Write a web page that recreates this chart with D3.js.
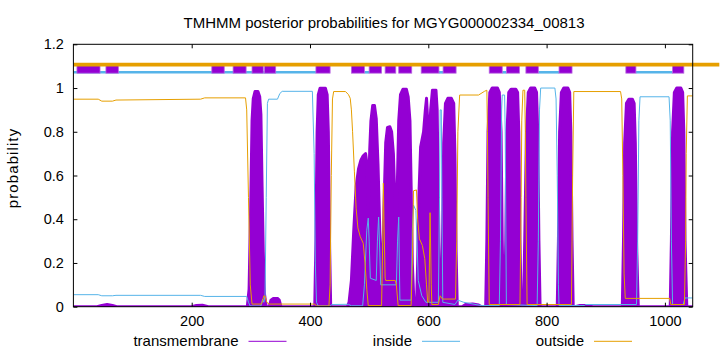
<!DOCTYPE html>
<html><head><meta charset="utf-8">
<script src="https://cdn.jsdelivr.net/npm/d3@7"></script>
<style>
body{margin:0;background:#fff;}
svg{display:block;font-family:"Liberation Sans",Arial,sans-serif;}
</style></head>
<body>
<svg id="chart" width="720" height="352"></svg>
<script>
const titleText = "TMHMM posterior probabilities for MGYG000002334_00813";
const xTicks = [200,400,600,800,1000];
const yTicks = [0,0.2,0.4,0.6,0.8,1,1.2];
const seqLength = 1047;
const legendLabels = ["transmembrane","inside","outside"];

const tmProb = [
[1,0],[40,0],[48,0.006],[57,0.01],[66,0.006],[73,0],
[200,0],[208,0.006],[218,0.007],[228,0],
[294,0],[297,0.08],[300,0.5],[302,0.85],[304,0.95],[307,0.984],[312,0.984],[315,0.96],[317,0.88],[319,0.55],[321,0.25],[323,0.06],[326,0],
[331,0],[334,0.03],[338,0.038],[345,0.038],[348,0.03],[351,0],
[408,0],[410,0.3],[412,0.8],[414,0.97],[417,0.999],[426,0.999],[429,0.97],[431,0.8],[433,0.3],[435,0],
[463,0],[466,0.02],[470,0.12],[474,0.35],[478,0.55],[482,0.63],[486,0.67],[490,0.69],[494,0.7],[496,0.66],[498.5,0.45],[501,0.72],[503,0.85],[506,0.92],[509,0.92],[512,0.86],[515,0.65],[518,0.35],[521,0.14],[523,0.14],[525,0.45],[528,0.75],[531,0.82],[535,0.823],[538,0.8],[541,0.7],[544,0.45],[546,0.35],[548,0.6],[550,0.85],[553,0.97],[557,0.994],[563,0.994],[566,0.96],[569,0.85],[571,0.55],[573,0.2],[576,0],
[580,0],[582,0.2],[584,0.5],[587,0.73],[592,0.8],[595,0.9],[597,0.953],[599,0.85],[602,0.78],[604,0.9],[607,0.99],[613,0.99],[615,0.9],[617,0.5],[619,0.1],[621,0],
[622,0],[624,0.3],[626,0.75],[629,0.93],[633,0.953],[639,0.953],[643,0.93],[645,0.7],[647,0.25],[649,0],
[657,0],[663,0.01],[675,0.012],[685,0.008],[690,0],
[697,0],[699,0.3],[701,0.8],[704,0.98],[708,1.0],[717,1.0],[720,0.98],[723,0.8],[725,0.3],[727,0],
[729,0],[731,0.3],[733,0.8],[736,0.98],[740,0.995],[748,0.995],[751,0.98],[753,0.8],[755,0.3],[757,0],
[761,0],[763,0.3],[766,0.8],[769,0.98],[773,1.0],[780,1.0],[783,0.98],[785,0.8],[787,0.3],[789,0],
[818,0],[820,0.3],[822,0.8],[825,0.98],[829,1.0],[836,1.0],[839,0.98],[841,0.8],[843,0.3],[845,0],
[848,0],[855,0.005],[870,0.005],[878,0],
[928,0],[930,0.3],[932,0.75],[935,0.93],[939,0.949],[945,0.949],[948,0.93],[950,0.75],[952,0.3],[955,0],
[1009,0],[1011,0.3],[1013,0.8],[1016,0.98],[1020,1.0],[1027,1.0],[1030,0.98],[1032,0.8],[1034,0.3],[1037,0],
[1047,0]
];

const insideProb = [
[1,0.055],[42,0.055],[48,0.05],[66,0.05],[72,0.052],[215,0.052],[222,0.047],[293,0.047],[296,0.02],[299,0.003],[317,0.003],[320,0.035],[322,0.02],[324,0.05],[326,0.5],[328,0.93],[330,0.949],[345,0.949],[349,0.975],[353,0.985],[404,0.985],[407,0.7],[409,0.2],[411,0.02],[414,0.003],[434,0.003],[437,0.01],[465,0.011],[470,0.004],[489,0.004],[492,0.1],[496,0.35],[498.5,0.405],[500,0.3],[502,0.13],[512,0.12],[514,0.3],[516,0.41],[518,0.25],[519.5,0.1],[546,0.1],[548,0.3],[550,0.41],[551,0.2],[552,0.03],[571,0.03],[573,0.35],[575,0.465],[579,0.44],[581,0.3],[583,0.12],[589,0.05],[596,0.02],[617,0.02],[619,0.5],[620,0.9],[622,0.9],[623,0.5],[624.5,0.02],[645,0.01],[650,0.03],[660,0.02],[690,0.005],[720,0.005],[722,0.3],[724,0.9],[725,0.968],[729,0.968],[730,0.8],[732,0.01],[784,0.005],[786,0.3],[788,0.9],[790,1.0],[814,1.0],[816,0.95],[818,0.6],[820,0.1],[821,0.005],[864,0.005],[866,0.01],[952,0.01],[954,0.3],[956,0.85],[958,0.96],[1007,0.96],[1009,0.85],[1011,0.3],[1013,0.01],[1031,0.01],[1033,0.03],[1034,0.04],[1047,0.04]
];

const outsideProb = [
[1,0.949],[42,0.949],[48,0.94],[66,0.94],[72,0.945],[215,0.949],[222,0.955],[291,0.955],[293,0.9],[296,0.5],[299,0.1],[302,0.012],[318,0.012],[320,0.03],[322,0.05],[324,0.048],[327,0.02],[331,0.012],[408,0.012],[411,0.003],[432,0.003],[434,0.1],[436,0.6],[438,0.95],[440,0.984],[460,0.984],[465,0.97],[468,0.953],[470,0.9],[472,0.8],[475,0.62],[478,0.45],[481,0.36],[485,0.32],[490,0.29],[493,0.2],[496,0.08],[498.5,0.005],[521,0.005],[523,0.3],[524,0.565],[525,0.4],[527,0.13],[528,0.12],[544,0.12],[546,0.1],[549,0.005],[571,0.005],[573,0.2],[575,0.53],[580,0.534],[582,0.4],[585,0.31],[590,0.28],[594,0.22],[597,0.1],[599,0.02],[601,0.02],[603,0.43],[605,0.1],[606,0.01],[617,0.01],[620,0.05],[624,0.035],[646,0.035],[648,0.3],[650,0.8],[653,0.968],[685,0.968],[695,0.985],[699,0.99],[700,0.8],[701,0.5],[703,0.01],[755,0.01],[757,0.5],[758,0.85],[760,0.99],[763,0.99],[764,0.8],[765,0.5],[767,0.01],[842,0.01],[843,0.3],[844,0.6],[846,0.984],[925,0.984],[927,0.95],[929,0.6],[931,0.15],[933,0.038],[1008,0.038],[1010,0.01],[1033,0.01],[1035,0.3],[1036,0.7],[1038,0.964],[1047,0.964]
];

// predicted topology track
const tmSegStart = [6,55,234,270,302,323,410,470,500,527,550,588,625,703,732,765,821,934,1013];
const tmSegEnd   = [45,76,255,292,321,342,434,492,521,545,572,618,647,725,754,786,843,951,1032];
const inSegStart = [0,492,618,725,786,951];
const inSegEnd   = [410,500,625,732,821,1013];
const outSegStart = [0];
const outSegEnd = [1092];

const colTM = "#9400D3", colIn = "#56B4E9", colOut = "#E69F00";

const svg = d3.select("#chart");
const x = d3.scaleLinear().domain([0, seqLength]).range([73.4, 692.7]);
const y = d3.scaleLinear().domain([0, 1.2]).range([306.7, 44.3]);

// title
svg.append("text").attr("x", 384).attr("y", 27.5).attr("text-anchor","middle")
  .attr("font-size", 15).text(titleText);
// y label
svg.append("text").attr("transform","translate(18,168) rotate(-90)")
  .attr("text-anchor","middle").attr("font-size",15).attr("letter-spacing", 1.1).text("probability");

const defs = svg.append("defs");
defs.append("clipPath").attr("id","clip").append("rect")
  .attr("x", x(0)).attr("y", y(1.2)).attr("width", x(seqLength)-x(0)).attr("height", y(0)-y(1.2));

const plot = svg.append("g").attr("clip-path","url(#clip)");

// TM area
const area = d3.area().x(d=>x(d[0])).y0(y(0)).y1(d=>y(d[1]));
plot.append("path").datum(tmProb).attr("d", area)
  .attr("fill", colTM).attr("stroke", colTM).attr("stroke-width", 3).attr("stroke-linejoin","round");

const line = d3.line().x(d=>x(d[0])).y(d=>y(d[1]));
plot.append("path").datum(insideProb).attr("d", line).attr("fill","none")
  .attr("stroke", colIn).attr("stroke-width", 1);
plot.append("path").datum(outsideProb).attr("d", line).attr("fill","none")
  .attr("stroke", colOut).attr("stroke-width", 1);

// topology track
const topo = svg.append("g");
inSegStart.forEach((s,i)=>{
  topo.append("line").attr("x1", x(s)).attr("x2", x(inSegEnd[i]))
    .attr("y1", y(1.072)).attr("y2", y(1.072)).attr("stroke", colIn).attr("stroke-width", 2.6);
});
tmSegStart.forEach((s,i)=>{
  topo.append("rect").attr("x", x(s)).attr("width", x(tmSegEnd[i])-x(s))
    .attr("y", y(1.104)).attr("height", y(1.068)-y(1.104))
    .attr("fill", colTM).attr("stroke", "#b866e0").attr("stroke-width", 0.8);
});
outSegStart.forEach((s,i)=>{
  topo.append("line").attr("x1", x(s)).attr("x2", x(outSegEnd[i]))
    .attr("y1", y(1.107)).attr("y2", y(1.107)).attr("stroke", colOut).attr("stroke-width", 3.6);
});

// axes
const xAxis = d3.axisBottom(x).tickValues(xTicks).tickSizeInner(-4).tickSizeOuter(0).tickPadding(9)
  .tickFormat(d3.format("d"));
const gx = svg.append("g").attr("transform", `translate(0,${y(0)})`).call(xAxis);
gx.select(".domain").remove();
gx.selectAll("text").attr("font-size", 14.5).attr("fill","#000").attr("font-family","Liberation Sans, Arial, sans-serif");
const xTop = d3.axisTop(x).tickValues(xTicks).tickSizeInner(-4).tickSizeOuter(0).tickFormat("");
const gxt = svg.append("g").attr("transform", `translate(0,${y(1.2)})`).call(xTop);
gxt.select(".domain").remove();

const yAxis = d3.axisLeft(y).tickValues(yTicks).tickSizeInner(-4).tickSizeOuter(0).tickPadding(9.5)
  .tickFormat(d => String(+d.toFixed(1)));
const gy = svg.append("g").attr("transform", `translate(${x(0)},0)`).call(yAxis);
gy.select(".domain").remove();
gy.selectAll("text").attr("font-size", 14.5).attr("fill","#000").attr("font-family","Liberation Sans, Arial, sans-serif");
const yRight = d3.axisRight(y).tickValues(yTicks).tickSizeInner(-4).tickSizeOuter(0).tickFormat("");
const gyr = svg.append("g").attr("transform", `translate(${x(seqLength)},0)`).call(yRight);
gyr.select(".domain").remove();
svg.selectAll(".tick line").attr("stroke","#000");

// border
svg.append("rect").attr("x", x(0)).attr("y", y(1.2)).attr("width", x(seqLength)-x(0)).attr("height", y(0)-y(1.2))
  .attr("fill","none").attr("stroke","#000").attr("stroke-width",1);

// legend
const legendCols = [colTM, colIn, colOut];
const legendTextX = [238.5, 412, 584];
legendLabels.forEach((lab,i)=>{
  svg.append("text").attr("x", legendTextX[i]).attr("y", 346).attr("text-anchor","end")
    .attr("font-size", 15).text(lab);
  svg.append("line").attr("x1", legendTextX[i]+10).attr("x2", legendTextX[i]+48)
    .attr("y1", 341.3).attr("y2", 341.3).attr("stroke", legendCols[i]).attr("stroke-width", 1);
});
</script>
</body></html>
